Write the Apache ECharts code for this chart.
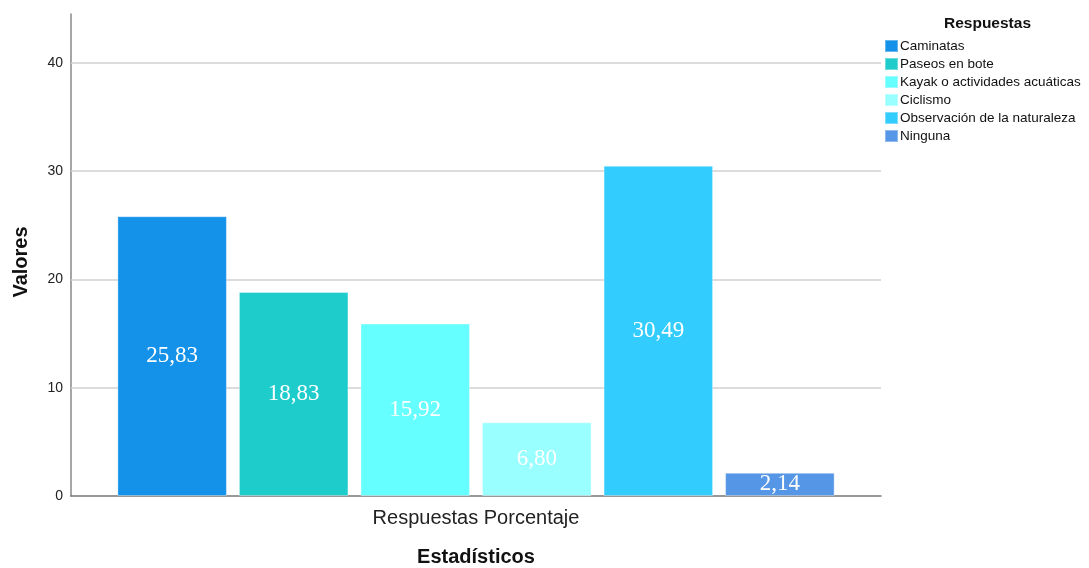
<!DOCTYPE html>
<html>
<head>
<meta charset="utf-8">
<script src="https://cdn.jsdelivr.net/npm/echarts@6/dist/echarts.min.js"></script>
<style>
html,body{margin:0;padding:0;background:#fff;}
#c{width:1089px;height:568px;}
</style>
</head>
<body>
<div id="c"></div>
<script>
const categories = ['Respuestas Porcentaje'];
const seriesNames = ['Caminatas', 'Paseos en bote', 'Kayak o actividades acuáticas', 'Ciclismo', 'Observación de la naturaleza', 'Ninguna'];
const seriesValues = [25.83, 18.83, 15.92, 6.80, 30.49, 2.14];
const seriesColors = ['#1491E8', '#1ECCCC', '#66FFFF', '#99FFFF', '#33CCFF', '#5596E6'];
const yTicks = [10, 20, 30, 40];

const chart = echarts.init(document.getElementById('c'));
const font = 'Liberation Sans, Arial, sans-serif';

const series = seriesNames.map((name, i) => ({
  name: name,
  type: 'bar',
  data: [seriesValues[i]],
  barWidth: 109.5,
  barGap: '11%',
  itemStyle: { color: seriesColors[i], borderColor: 'rgba(255,255,255,0.35)', borderWidth: 1 },
  label: {
    show: true,
    position: 'inside',
    color: '#ffffff',
    fontFamily: 'Liberation Serif, Times New Roman, serif',
    fontSize: 23,
    formatter: p => p.value.toFixed(2).replace('.', ',')
  },
  emphasis: { disabled: true },
  markLine: i === 0 ? {
    silent: true,
    z: 1,
    symbol: ['none', 'none'],
    label: { show: false },
    lineStyle: { color: '#d0d0d0', width: 1.5, type: 'solid' },
    data: yTicks.map(v => ({ yAxis: v })),
    animation: false
  } : undefined,
  z: 3
}));

chart.setOption({
  animation: false,
  backgroundColor: '#ffffff',
  title: {
    text: 'Respuestas',
    left: 944,
    top: 16,
    padding: 0,
    textStyle: { fontFamily: font, fontSize: 15.5, fontWeight: 'bold', color: '#111' }
  },
  legend: {
    orient: 'vertical',
    left: 879,
    top: 34,
    itemWidth: 13,
    itemHeight: 12,
    itemGap: 4,
    icon: 'rect',
    selectedMode: false,
    textStyle: { fontFamily: font, fontSize: 13.5, lineHeight: 14, color: '#111', padding: [0, 0, 0, -3] },
    data: seriesNames
  },
  grid: { left: 71, right: 208, top: 14, bottom: 72, outerBoundsMode: 'none', containLabel: false },
  xAxis: {
    type: 'category',
    data: categories,
    axisTick: { show: false },
    axisLine: { lineStyle: { color: '#777', width: 1.5 } },
    axisLabel: { fontFamily: font, fontSize: 20, color: '#222', margin: 12 },
    name: 'Estadísticos',
    nameLocation: 'middle',
    nameGap: 51,
    nameTextStyle: { fontFamily: font, fontSize: 20, fontWeight: 'bold', color: '#111' }
  },
  yAxis: {
    type: 'value',
    min: 0,
    max: 44.5,
    interval: 10,
    splitLine: { show: false },
    axisTick: { show: false },
    axisLine: { show: true, lineStyle: { color: '#888', width: 1.5 } },
    axisLabel: {
      fontFamily: font, fontSize: 14, color: '#222', margin: 8,
      formatter: v => (v % 10 === 0 ? String(v) : '')
    },
    name: 'Valores',
    nameLocation: 'middle',
    nameGap: 40,
    nameTextStyle: { fontFamily: font, fontSize: 20, fontWeight: 'bold', color: '#111', padding: [0, 14, 0, 0] }
  },
  series: series
});
</script>
</body>
</html>
